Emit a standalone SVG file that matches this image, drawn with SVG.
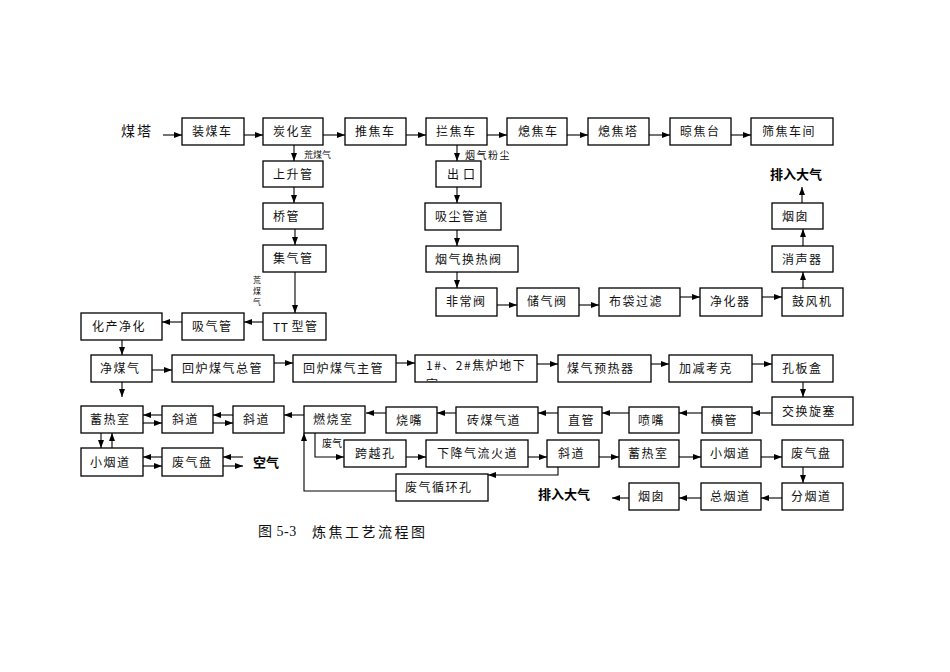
<svg xmlns="http://www.w3.org/2000/svg" width="950" height="672" viewBox="0 0 950 672">
<style>
.b{fill:#fff;stroke:#000;stroke-width:1.3}
.t{font-family:"Noto Sans CJK SC","Noto Sans",sans-serif;font-size:12px;letter-spacing:1.5px;fill:#111;dominant-baseline:central}
.s{font-family:"Noto Sans CJK SC",sans-serif;font-size:9px;fill:#111;dominant-baseline:central}
.v{font-family:"Noto Sans CJK SC",sans-serif;font-size:8px;fill:#111;dominant-baseline:central;text-anchor:middle}
.bd{font-family:"Noto Sans CJK SC",sans-serif;font-size:13px;font-weight:bold;fill:#000;dominant-baseline:central}
.c{fill:none;stroke:#000;stroke-width:1.1}
</style>
<defs>
<marker id="ah" viewBox="0 0 8 6" refX="8" refY="3" markerWidth="8" markerHeight="6" markerUnits="userSpaceOnUse" orient="auto">
<path d="M0,0L8,3L0,6Z" fill="#000"/>
</marker>
<clipPath id="clip1"><rect x="415" y="355" width="122" height="26.5"/></clipPath>
</defs>
<rect width="950" height="672" fill="#fff"/>

<g id="connectors" class="c" marker-end="url(#ah)">
<path d="M163,135H182"/>
<path d="M244,135H263"/>
<path d="M323,135H345"/>
<path d="M406,135H426"/>
<path d="M487,135H507"/>
<path d="M567,135H588"/>
<path d="M649,135H670"/>
<path d="M731,135H751"/>
<path d="M294,145V161"/>
<path d="M294,187V203"/>
<path d="M295,229V245"/>
<path d="M295,272V313"/>
<path d="M263,322H244"/>
<path d="M182,322H162"/>
<path d="M122,340V355"/>
<path d="M152,370H172"/>
<path d="M274,363H293"/>
<path d="M396,363H415"/>
<path d="M537,364H558"/>
<path d="M651,364H669"/>
<path d="M752,364H772"/>
<path d="M803,382V397"/>
<path d="M772,413H752"/>
<path d="M702,413H679"/>
<path d="M629,413H602"/>
<path d="M558,413H538"/>
<path d="M456,413H437"/>
<path d="M386,413H366"/>
<path d="M304,415H284"/>
<path d="M233,415H213"/>
<path d="M213,423H233"/>
<path d="M162,415H143"/>
<path d="M143,423H162"/>
<path d="M122,382V397"/>
<path d="M101,433V448"/>
<path d="M112,448V433"/>
<path d="M162,457H143"/>
<path d="M143,466H162"/>
<path d="M243,457H223"/>
<path d="M223,466H243"/>
<path d="M315,433V457H344"/>
<path d="M406,457H426"/>
<path d="M528,457H547"/>
<path d="M599,457H619"/>
<path d="M679,457H701"/>
<path d="M761,457H782"/>
<path d="M803,467V483"/>
<path d="M782,498H761"/>
<path d="M701,498H679"/>
<path d="M629,498H612"/>
<path d="M558,467V475H488"/>
<path d="M396,491H304V433"/>
<path d="M457,145V161"/>
<path d="M457,187V203"/>
<path d="M457,230V246"/>
<path d="M457,272V288"/>
<path d="M497,305H517"/>
<path d="M579,305H599"/>
<path d="M680,297H700"/>
<path d="M762,297H782"/>
<path d="M803,288V272"/>
<path d="M803,246V229"/>
<path d="M802,203V187"/>
</g>

<g id="labels">
<text x="121" y="130" class="t" style="font-size:14px;letter-spacing:2px">煤塔</text>
<text x="304" y="154" class="s">荒煤气</text>
<text x="465" y="154" class="s" style="font-size:10px;letter-spacing:1.5px">烟气粉尘</text>
<g><text x="257" y="279" class="v">荒</text><text x="257" y="290" class="v">煤</text><text x="257" y="301" class="v">气</text></g>
<text x="322" y="442" class="s" style="font-size:10px">废气</text>
<text x="770" y="173" class="bd">排入大气</text>
<text x="253" y="461" class="bd">空气</text>
<text x="538" y="493" class="bd">排入大气</text>
<text x="258" y="531" class="t" style="font-size:14px;letter-spacing:0.5px;font-family:'Liberation Serif','Noto Sans CJK SC',serif">图 5-3</text>
<text x="312" y="531" class="t" style="font-size:14px;letter-spacing:2.5px">炼焦工艺流程图</text>
</g>

<g id="n-zhuangmeiche"><rect class="b" x="182" y="118" width="62" height="27"/><text class="t" x="192" y="130.5">装煤车</text></g>
<g id="n-tanhuashi"><rect class="b" x="263" y="118" width="60" height="27"/><text class="t" x="273" y="130.5">炭化室</text></g>
<g id="n-tuijiaoche"><rect class="b" x="345" y="118" width="61" height="27"/><text class="t" x="355" y="130.5">推焦车</text></g>
<g id="n-lanjiaoche"><rect class="b" x="426" y="118" width="61" height="27"/><text class="t" x="436" y="130.5">拦焦车</text></g>
<g id="n-xijiaoche"><rect class="b" x="507" y="118" width="60" height="27"/><text class="t" x="518" y="130.5">熄焦车</text></g>
<g id="n-xijiaota"><rect class="b" x="588" y="118" width="61" height="27"/><text class="t" x="598" y="130.5">熄焦塔</text></g>
<g id="n-liangjiaotai"><rect class="b" x="670" y="118" width="61" height="27"/><text class="t" x="680" y="130.5">晾焦台</text></g>
<g id="n-shaijiao"><rect class="b" x="751" y="118" width="82" height="27"/><text class="t" x="762" y="130.5">筛焦车间</text></g>

<g id="n-shangshengguan"><rect class="b" x="263" y="161" width="60" height="26"/><text class="t" x="273" y="173">上升管</text></g>
<g id="n-qiaoguan"><rect class="b" x="263" y="203" width="60" height="26"/><text class="t" x="273" y="215">桥管</text></g>
<g id="n-jiqiguan"><rect class="b" x="263" y="245" width="63" height="27"/><text class="t" x="273" y="257.5">集气管</text></g>
<g id="n-ttguan"><rect class="b" x="263" y="313" width="63" height="27"/><text class="t" x="273" y="325.5"><tspan style="letter-spacing:0.5px">TT </tspan>型管</text></g>
<g id="n-xiqiguan"><rect class="b" x="182" y="313" width="62" height="27"/><text class="t" x="192" y="325.5">吸气管</text></g>
<g id="n-huachan"><rect class="b" x="81" y="313" width="81" height="27"/><text class="t" x="92" y="325.5">化产净化</text></g>

<g id="n-chukou"><rect class="b" x="436" y="161" width="45" height="26"/><text class="t" x="447" y="173" style="letter-spacing:4px">出口</text></g>
<g id="n-xichen"><rect class="b" x="425" y="203" width="76" height="27"/><text class="t" x="435" y="215.5">吸尘管道</text></g>
<g id="n-huanrefa"><rect class="b" x="426" y="246" width="92" height="26"/><text class="t" x="435" y="258">烟气换热阀</text></g>
<g id="n-feichangfa"><rect class="b" x="436" y="288" width="61" height="28"/><text class="t" x="446" y="300.5">非常阀</text></g>
<g id="n-chuqifa"><rect class="b" x="517" y="288" width="62" height="28"/><text class="t" x="527" y="300.5">储气阀</text></g>
<g id="n-budai"><rect class="b" x="599" y="288" width="81" height="28"/><text class="t" x="609" y="300.5">布袋过滤</text></g>
<g id="n-jinghuaqi"><rect class="b" x="700" y="288" width="62" height="28"/><text class="t" x="710" y="300.5">净化器</text></g>
<g id="n-gufengji"><rect class="b" x="782" y="288" width="61" height="28"/><text class="t" x="792" y="300.5">鼓风机</text></g>
<g id="n-xiaoshengqi"><rect class="b" x="772" y="246" width="61" height="26"/><text class="t" x="782" y="258">消声器</text></g>
<g id="n-yancong1"><rect class="b" x="772" y="203" width="51" height="26"/><text class="t" x="782" y="215">烟囱</text></g>

<g id="n-jingmeiqi"><rect class="b" x="91" y="355" width="61" height="27"/><text class="t" x="100" y="367.5">净煤气</text></g>
<g id="n-zongguan"><rect class="b" x="172" y="355" width="102" height="27"/><text class="t" x="182" y="367.5">回炉煤气总管</text></g>
<g id="n-zhuguan"><rect class="b" x="293" y="355" width="103" height="27"/><text class="t" x="303" y="367.5">回炉煤气主管</text></g>
<g id="n-dixiashi"><rect class="b" x="415" y="355" width="122" height="27"/><g clip-path="url(#clip1)"><text class="t" x="426" y="364">1#、2#焦炉地下</text><text class="t" x="426" y="383">室</text></g></g>
<g id="n-yureqi"><rect class="b" x="558" y="355" width="93" height="27"/><text class="t" x="567" y="367.5">煤气预热器</text></g>
<g id="n-jiajian"><rect class="b" x="669" y="355" width="83" height="27"/><text class="t" x="679" y="367.5">加减考克</text></g>
<g id="n-kongbanhe"><rect class="b" x="772" y="355" width="61" height="27"/><text class="t" x="782" y="367.5">孔板盒</text></g>

<g id="n-jiaohuan"><rect class="b" x="772" y="397" width="81" height="28"/><text class="t" x="782" y="410">交换旋塞</text></g>
<g id="n-hengguan"><rect class="b" x="702" y="407" width="50" height="26"/><text class="t" x="711" y="419">横管</text></g>
<g id="n-penzui"><rect class="b" x="629" y="407" width="50" height="26"/><text class="t" x="638" y="419">喷嘴</text></g>
<g id="n-zhiguan"><rect class="b" x="558" y="407" width="44" height="26"/><text class="t" x="568" y="419">直管</text></g>
<g id="n-zhuanmeiqidao"><rect class="b" x="456" y="407" width="82" height="26"/><text class="t" x="467" y="419">砖煤气道</text></g>
<g id="n-shaozui"><rect class="b" x="386" y="407" width="51" height="26"/><text class="t" x="396" y="419">烧嘴</text></g>
<g id="n-ranshaoshi"><rect class="b" x="304" y="406" width="61" height="27"/><text class="t" x="313" y="418.5">燃烧室</text></g>
<g id="n-xiedao2"><rect class="b" x="233" y="406" width="51" height="27"/><text class="t" x="243" y="418.5">斜道</text></g>
<g id="n-xiedao1"><rect class="b" x="162" y="406" width="51" height="27"/><text class="t" x="172" y="418.5">斜道</text></g>
<g id="n-xureshi1"><rect class="b" x="81" y="406" width="62" height="27"/><text class="t" x="90" y="418.5">蓄热室</text></g>
<g id="n-xiaoyandao1"><rect class="b" x="81" y="448" width="62" height="28"/><text class="t" x="90" y="461">小烟道</text></g>
<g id="n-feiqipan1"><rect class="b" x="162" y="448" width="61" height="28"/><text class="t" x="172" y="461">废气盘</text></g>

<g id="n-kuayuekong"><rect class="b" x="344" y="440" width="62" height="27"/><text class="t" x="355" y="452.5">跨越孔</text></g>
<g id="n-xiajiang"><rect class="b" x="426" y="440" width="102" height="27"/><text class="t" x="437" y="452.5">下降气流火道</text></g>
<g id="n-xiedao3"><rect class="b" x="547" y="440" width="52" height="27"/><text class="t" x="558" y="452.5">斜道</text></g>
<g id="n-xureshi2"><rect class="b" x="619" y="440" width="60" height="27"/><text class="t" x="628" y="452.5">蓄热室</text></g>
<g id="n-xiaoyandao2"><rect class="b" x="701" y="440" width="60" height="27"/><text class="t" x="710" y="452.5">小烟道</text></g>
<g id="n-feiqipan2"><rect class="b" x="782" y="440" width="61" height="27"/><text class="t" x="791" y="452.5">废气盘</text></g>
<g id="n-xunhuan"><rect class="b" x="396" y="474" width="92" height="27"/><text class="t" x="405" y="486.5">废气循环孔</text></g>
<g id="n-fenyandao"><rect class="b" x="782" y="483" width="61" height="27"/><text class="t" x="791" y="495.5">分烟道</text></g>
<g id="n-zongyandao"><rect class="b" x="701" y="483" width="60" height="27"/><text class="t" x="710" y="495.5">总烟道</text></g>
<g id="n-yancong2"><rect class="b" x="629" y="483" width="50" height="27"/><text class="t" x="638" y="495.5">烟囱</text></g>
</svg>
